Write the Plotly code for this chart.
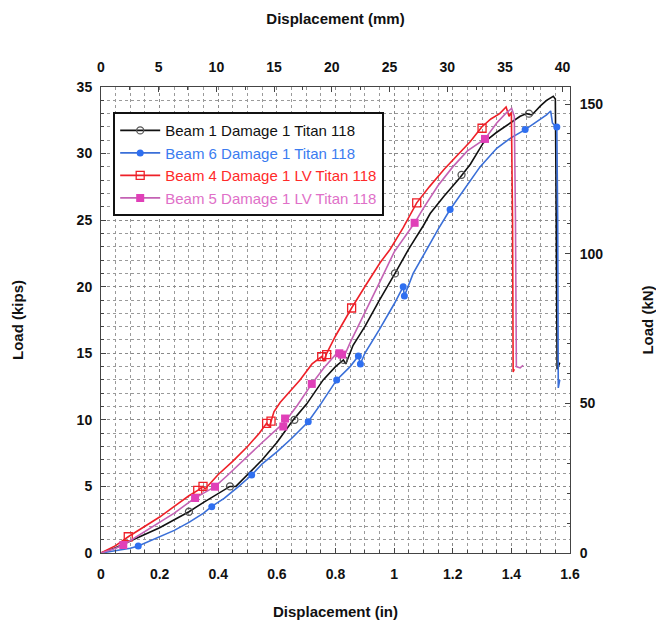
import plotly.graph_objects as go

KN_PER_KIP = 4.448222
MM_PER_IN = 25.4

# Beam 1 Damage 1 Titan 118
b1_x = [0, 0.05, 0.1, 0.15, 0.2, 0.25, 0.3, 0.35, 0.4, 0.44, 0.46, 0.5, 0.55, 0.6, 0.656, 0.702,
        0.758, 0.8, 0.827, 0.835, 0.86, 0.9, 0.95, 1.003, 1.049, 1.1, 1.123, 1.17, 1.225, 1.26,
        1.304, 1.35, 1.396, 1.43, 1.452, 1.47, 1.5, 1.52, 1.543, 1.55, 1.552, 1.554, 1.556, 1.56, 1.565]
b1_y = [0, 0.4, 0.9, 1.4, 1.9, 2.5, 3.1, 3.8, 4.5, 5.0, 5.0, 5.9, 7.0, 8.3, 10.0, 11.2,
        13.0, 14.0, 14.5, 14.2, 15.6, 17.0, 19.0, 21.0, 22.8, 24.6, 25.5, 26.8, 28.2, 29.2,
        30.8, 31.6, 32.3, 32.8, 33.0, 32.9, 33.6, 34.0, 34.3, 34.1, 28.5, 15.0, 13.8, 14.0, 14.3]
b1_mx = [0.3, 0.44, 0.66, 0.828, 1.003, 1.23, 1.46]
b1_my = [3.1, 5.0, 10.0, 14.5, 21.0, 28.4, 33.0]

# Beam 6 Damage 1 Titan 118
b6_x = [0, 0.05, 0.1, 0.127, 0.15, 0.2, 0.25, 0.3, 0.35, 0.378, 0.42, 0.47, 0.514, 0.55, 0.6,
        0.65, 0.707, 0.75, 0.804, 0.85, 0.878, 0.885, 0.9, 0.95, 1.0, 1.031, 1.035, 1.065, 1.111,
        1.15, 1.191, 1.25, 1.293, 1.35, 1.4, 1.447, 1.48, 1.5, 1.52, 1.534, 1.54, 1.548, 1.555,
        1.558, 1.56, 1.565]
b6_y = [0, 0.15, 0.35, 0.53, 0.75, 1.2, 1.7, 2.3, 3.0, 3.5, 4.1, 5.0, 5.86, 6.7, 7.6,
        8.6, 9.86, 11.2, 13.0, 14.0, 14.8, 14.2, 15.0, 16.8, 18.7, 20.0, 19.3, 21.0, 22.8,
        24.3, 25.8, 27.7, 29.0, 30.4, 31.2, 31.8, 32.3, 32.6, 32.9, 33.2, 32.3, 32.1, 32.0,
        25.0, 12.4, 13.0]
b6_mx = [0.127, 0.378, 0.514, 0.707, 0.804, 0.878, 0.885, 1.031, 1.035, 1.191, 1.447, 1.555]
b6_my = [0.53, 3.48, 5.86, 9.86, 13.0, 14.8, 14.2, 20.0, 19.3, 25.8, 31.8, 32.0]

# Beam 4 Damage 1 LV Titan 118
b4_x = [0, 0.05, 0.093, 0.15, 0.2, 0.25, 0.3, 0.33, 0.348, 0.355, 0.4, 0.45, 0.5, 0.54, 0.565,
        0.575, 0.59, 0.611, 0.65, 0.679, 0.72, 0.753, 0.76, 0.77, 0.8, 0.855, 0.9, 0.952, 0.986,
        1.03, 1.077, 1.12, 1.17, 1.214, 1.26, 1.299, 1.33, 1.36, 1.382, 1.392, 1.4, 1.404,
        1.406, 1.41]
b4_y = [0, 0.55, 1.22, 2.0, 2.7, 3.5, 4.3, 4.7, 5.0, 4.8, 5.9, 6.9, 8.0, 9.0, 9.74,
        9.5, 10.6, 11.3, 12.3, 13.0, 14.2, 14.75, 14.4, 15.0, 16.3, 18.4, 20.0, 21.8, 22.8,
        24.4, 26.3, 27.5, 28.8, 29.8, 30.9, 32.0, 32.6, 33.0, 33.5, 32.8, 33.1, 25.0,
        13.6, 13.8]
b4_mx = [0.093, 0.33, 0.348, 0.565, 0.58, 0.753, 0.77, 0.855, 1.077, 1.3]
b4_my = [1.22, 4.7, 5.0, 9.74, 9.9, 14.75, 14.9, 18.4, 26.3, 31.9]

# Beam 5 Damage 1 LV Titan 118
b5_x = [0, 0.05, 0.076, 0.12, 0.2, 0.25, 0.3, 0.321, 0.35, 0.389, 0.43, 0.5, 0.55, 0.6, 0.628,
        0.67, 0.719, 0.76, 0.8, 0.813, 0.83, 0.85, 0.9, 0.95, 1.0, 1.07, 1.1, 1.15, 1.2, 1.25,
        1.31, 1.35, 1.38, 1.401, 1.41, 1.414, 1.417, 1.43, 1.44]
b5_y = [0, 0.35, 0.6, 1.2, 2.3, 3.0, 3.8, 4.13, 4.5, 4.98, 5.8, 7.3, 8.3, 9.3, 9.86,
        11.1, 12.7, 13.9, 14.9, 15.0, 14.8, 15.8, 18.0, 20.3, 22.6, 24.8, 25.9, 27.6, 29.0, 30.2,
        31.1, 32.3, 33.0, 33.4, 32.8, 25.0, 14.0, 13.9, 14.1]
b5_mx = [0.076, 0.321, 0.389, 0.622, 0.628, 0.719, 0.813, 0.822, 1.07, 1.31]
b5_my = [0.6, 4.13, 4.98, 9.5, 10.1, 12.7, 15.0, 14.9, 24.8, 31.1]

series = [
    ('Beam 1 Damage 1 Titan 118', b1_x, b1_y, b1_mx, b1_my, '#111111', '#111111',
     dict(symbol='circle-open', color='#555555', size=7, line=dict(width=1.3))),
    ('Beam 6 Damage 1 Titan 118', b6_x, b6_y, b6_mx, b6_my, '#3a6fd8', '#3b7cf0',
     dict(symbol='circle', color='#2f6ff0', size=7)),
    ('Beam 4 Damage 1 LV Titan 118', b4_x, b4_y, b4_mx, b4_my, '#ee2028', '#ff2a2a',
     dict(symbol='square-open', color='#ee2028', size=8, line=dict(width=1.3))),
    ('Beam 5 Damage 1 LV Titan 118', b5_x, b5_y, b5_mx, b5_my, '#c462b4', '#e070c8',
     dict(symbol='square', color='#e040b8', size=8)),
]

fig = go.Figure()
for name, x, y, mx, my, line_color, text_color, marker in series:
    fig.add_trace(go.Scatter(x=x, y=y, mode='lines', line=dict(color=line_color, width=1.6),
                             showlegend=False, legendgroup=name))
    fig.add_trace(go.Scatter(x=mx, y=my, mode='markers', marker=marker,
                             showlegend=False, legendgroup=name))
    # legend entry only
    fig.add_trace(go.Scatter(x=[None], y=[None], mode='lines+markers', legendgroup=name,
                             name=f'<span style="color:{text_color}">{name}</span>',
                             line=dict(color=line_color, width=1.6), marker=marker))

# hidden trace to carry the secondary (SI) axes
fig.add_trace(go.Scatter(x=[None], y=[None], xaxis='x2', yaxis='y2', showlegend=False))

grid = dict(showgrid=True, gridcolor='#8a8a8a', griddash='dot', gridwidth=1)
tickfont = dict(family='Liberation Sans, Arial', size=14, color='#111', weight='bold')
titlefont = dict(family='Liberation Sans, Arial', size=15, color='#111', weight='bold')
axline = dict(showline=True, linecolor='#444', linewidth=1, zeroline=False, automargin=False,
              ticks='inside', ticklen=5, tickcolor='#444', tickfont=tickfont)

# the page body adds an 8px offset, so the figure is sized 8px smaller
fig.update_layout(
    width=656, height=622,
    margin=dict(l=93, r=94, t=79, b=77),
    paper_bgcolor='white', plot_bgcolor='white',
    xaxis=dict(range=[0, 1.6], dtick=0.2, tickformat='~g', **axline, **grid,
               minor=dict(dtick=0.05, ticks='inside', ticklen=3, showgrid=True,
                          gridcolor='#9a9a9a', griddash='dot'),
               ticklabelstandoff=8,
               title=dict(text='Displacement (in)', font=titlefont, standoff=25)),
    xaxis2=dict(range=[0, 1.6 * MM_PER_IN], dtick=5, overlaying='x', side='top',
                **axline, showgrid=False,
                minor=dict(dtick=2.5, ticks='inside', ticklen=3),
                ticklabelstandoff=8,
                title=dict(text='Displacement (mm)', font=titlefont, standoff=31)),
    yaxis=dict(range=[0, 35], dtick=5, **axline, **grid,
               minor=dict(dtick=1, ticks='inside', ticklen=3, showgrid=True,
                          gridcolor='#9a9a9a', griddash='dot'),
               ticklabelstandoff=5,
               title=dict(text='Load (kips)', font=titlefont, standoff=49)),
    yaxis2=dict(range=[0, 35 * KN_PER_KIP], dtick=50, overlaying='y', side='right',
                **axline, showgrid=False,
                minor=dict(dtick=10, ticks='inside', ticklen=3),
                ticklabelstandoff=6,
                title=dict(text='Load (kN)', font=titlefont, standoff=40)),
    legend=dict(x=0.026, y=0.946, xanchor='left', yanchor='top',
                bgcolor='white', bordercolor='#111', borderwidth=2,
                font=dict(family='Liberation Sans, Arial', size=15, color='#111'),
                itemwidth=40, tracegroupgap=0),
)

fig.write_html('out.html')
